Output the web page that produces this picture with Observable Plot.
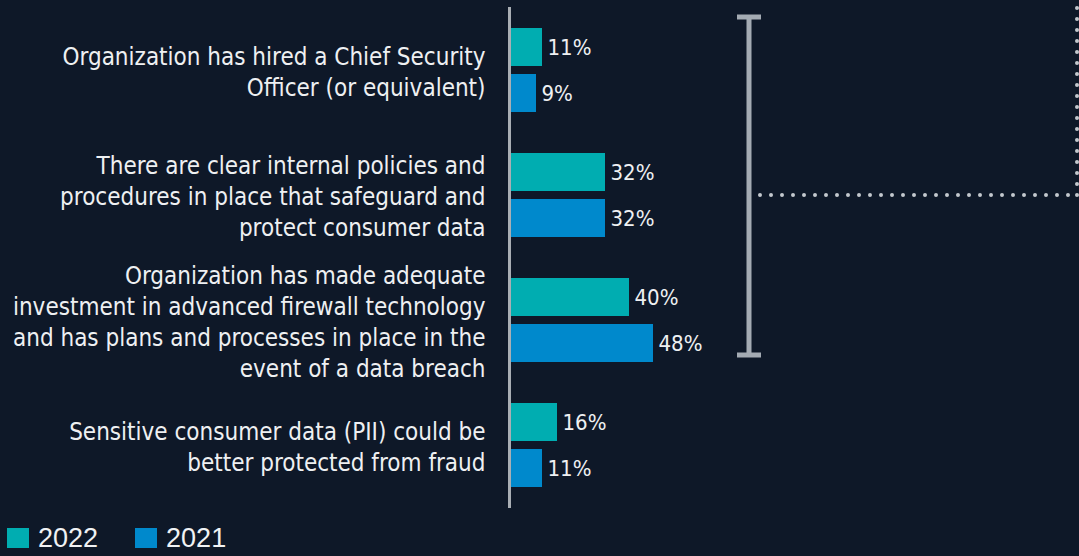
<!DOCTYPE html>
<html>
<head>
<meta charset="utf-8">
<script src="https://cdn.jsdelivr.net/npm/d3@7"></script>
<script src="https://cdn.jsdelivr.net/npm/@observablehq/plot@0.6"></script>
<style>
  html, body { margin: 0; padding: 0; background: #0e1828; width: 1079px; height: 556px; overflow: hidden; }
  #chart svg { display: block; }
  #legend { height: 36px; display: flex; align-items: center; padding-left: 7px;
    font-family: "Liberation Sans", Arial, sans-serif; font-size: 27px; color: #f0f2f4; }
  .item { display: flex; align-items: center; margin-right: 37px; }
  .sw { width: 22px; height: 20px; margin-right: 9px; }
</style>
</head>
<body>
<div id="chart"></div>
<div id="legend"></div>
<script>
const questions = [
  "Organization has hired a Chief Security Officer (or equivalent)",
  "There are clear internal policies and procedures in place that safeguard and protect consumer data",
  "Organization has made adequate investment in advanced firewall technology and has plans and processes in place in the event of a data breach",
  "Sensitive consumer data (PII) could be better protected from fraud"
];
const questionLabels = [
  "Organization has hired a Chief Security\nOfficer (or equivalent)",
  "There are clear internal policies and\nprocedures in place that safeguard and\nprotect consumer data",
  "Organization has made adequate\ninvestment in advanced firewall technology\nand has plans and processes in place in the\nevent of a data breach",
  "Sensitive consumer data (PII) could be\nbetter protected from fraud"
];
const years = ["2022", "2021"];
const values2022 = [11, 32, 40, 16];
const values2021 = [9, 32, 48, 11];
const yearColors = ["#00adb1", "#0089cc"];
const bracketAt = 80; // annotation bracket position (percent scale)

const rows = questions.flatMap((q, i) => [
  {q, year: "2022", v: values2022[i]},
  {q, year: "2021", v: values2021[i]}
]);

const labelFont = '"DejaVu Sans Condensed", "Roboto", sans-serif';
const textColor = "#eef0f2";

const chart = Plot.plot({
  width: 1079,
  height: 520,
  marginLeft: 509,
  marginRight: 0,
  marginTop: 7,
  marginBottom: 13,
  style: {background: "transparent", color: textColor, overflow: "visible"},
  x: {domain: [0, 190], axis: null},
  y: {domain: years, paddingInner: 0.17, paddingOuter: 0, axis: null},
  fy: {domain: questions, paddingInner: 0.314, paddingOuter: 0.152, axis: null},
  color: {domain: years, range: yearColors},
  marks: [
    Plot.barX(rows, {x: "v", y: "year", fy: "q", fill: "year"}),
    Plot.ruleX([0], {stroke: "#a9aeb4", strokeWidth: 3, insetTop: -20, insetBottom: -20}),
    Plot.text(rows, {x: "v", y: "year", fy: "q", text: d => d.v + "%", textAnchor: "start", dx: 5,
      fill: textColor, fontSize: 22, fontFamily: labelFont}),
    Plot.text(questions, {fy: d => d, frameAnchor: "left", text: (d, i) => questionLabels[i],
      textAnchor: "end", dx: -24, lineHeight: 1.29, fill: textColor, fontSize: 24, fontFamily: labelFont})
  ]
});
document.getElementById("chart").appendChild(chart);

// Annotation: bracket over first three questions with dotted leader
const fyScale = chart.scale("fy");
const xScale = chart.scale("x");
const bw = fyScale.bandwidth;
const bx = xScale.apply(bracketAt);
const bTop = fyScale.apply(questions[0]) - 10;
const bBottom = fyScale.apply(questions[2]) + bw - 8;
const midY = fyScale.apply(questions[1]) + bw / 2;
const W = 1079;
const g = d3.select(chart).append("g");
const dotStyle = sel => sel.attr("stroke", "#c3c8ce").attr("stroke-width", 4)
  .attr("stroke-linecap", "round").attr("stroke-dasharray", "0 11").attr("fill", "none");
g.append("line").attr("x1", bx).attr("x2", W).attr("y1", midY).attr("y2", midY).call(dotStyle);
g.append("line").attr("x1", W - 2).attr("x2", W - 2).attr("y1", midY).attr("y2", 0).call(dotStyle);
const bc = "#a4abb3";
g.append("line").attr("x1", bx).attr("x2", bx).attr("y1", bTop).attr("y2", bBottom).attr("stroke", bc).attr("stroke-width", 5);
g.append("line").attr("x1", bx - 12).attr("x2", bx + 12).attr("y1", bTop).attr("y2", bTop).attr("stroke", bc).attr("stroke-width", 5);
g.append("line").attr("x1", bx - 12).attr("x2", bx + 12).attr("y1", bBottom).attr("y2", bBottom).attr("stroke", bc).attr("stroke-width", 5);

// Legend
const legend = d3.select("#legend");
years.forEach((y, i) => {
  const it = legend.append("div").attr("class", "item");
  it.append("div").attr("class", "sw").style("background", yearColors[i]);
  it.append("span").text(y);
});
</script>
</body>
</html>
